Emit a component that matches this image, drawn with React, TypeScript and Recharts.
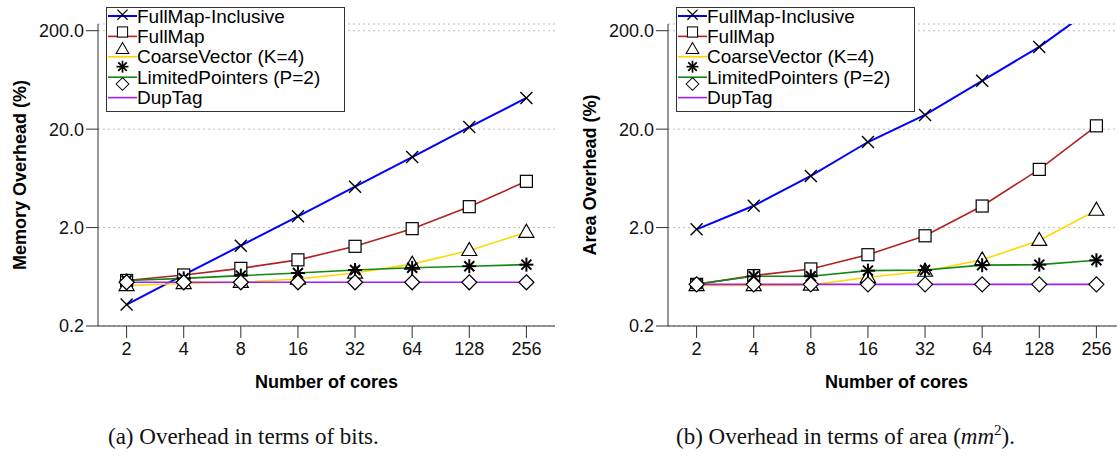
import { LineChart, Line, XAxis, YAxis, CartesianGrid, Legend } from 'recharts'

// number of cores (x categories)
const cores = ['2', '4', '8', '16', '32', '64', '128', '256']
const yTicks = [0.2, 2, 20, 200]

// (a) memory overhead, %
const memInclusive = [0.33, 0.66, 1.31, 2.6, 5.2, 10.4, 21, 41.5]
const memFullMap = [0.58, 0.66, 0.77, 0.94, 1.29, 1.95, 3.26, 5.9]
const memCoarse = [0.515, 0.54, 0.556, 0.6, 0.69, 0.85, 1.17, 1.79]
const memLimited = [0.58, 0.61, 0.65, 0.69, 0.74, 0.78, 0.81, 0.84]
const memDupTag = [0.556, 0.556, 0.556, 0.556, 0.556, 0.556, 0.556, 0.556]

// (b) area overhead, %
const areaInclusive = [1.92, 3.33, 6.7, 14.8, 27.9, 62, 137, 360]
const areaFullMap = [0.53, 0.65, 0.76, 1.06, 1.65, 3.31, 7.8, 21.6]
const areaCoarse = [0.515, 0.515, 0.52, 0.625, 0.72, 0.94, 1.48, 3.0]
const areaLimited = [0.535, 0.64, 0.64, 0.73, 0.74, 0.83, 0.84, 0.93]
const areaDupTag = [0.53, 0.53, 0.53, 0.53, 0.53, 0.53, 0.53, 0.53]

const series = [
  { key: 'inclusive', name: 'FullMap-Inclusive', color: '#0000ff', shape: 'cross', width: 2 },
  { key: 'fullmap', name: 'FullMap', color: '#b22222', shape: 'square', width: 1.6 },
  { key: 'coarse', name: 'CoarseVector (K=4)', color: '#ffd700', shape: 'triangle', width: 1.6 },
  { key: 'limited', name: 'LimitedPointers (P=2)', color: '#118a11', shape: 'star', width: 1.6 },
  { key: 'duptag', name: 'DupTag', color: '#a020f0', shape: 'diamond', width: 1.6 }
]

const buildRows = (cols: number[][]) =>
  cores.map((c, i) => ({
    cores: c,
    inclusive: cols[0][i],
    fullmap: cols[1][i],
    coarse: cols[2][i],
    limited: cols[3][i],
    duptag: cols[4][i]
  }))

const memData = buildRows([memInclusive, memFullMap, memCoarse, memLimited, memDupTag])
const areaData = buildRows([areaInclusive, areaFullMap, areaCoarse, areaLimited, areaDupTag])

const FONT = '"Liberation Sans", Arial, Helvetica, sans-serif'

const Marker = ({ shape, cx, cy }: { shape: string, cx: number, cy: number }) => {
  if (cx == null || cy == null || isNaN(cx) || isNaN(cy)) return null
  switch (shape) {
    case 'cross':
      return (
        <g stroke='#000' strokeWidth={1.4}>
          <line x1={cx - 6} y1={cy - 6} x2={cx + 6} y2={cy + 6} />
          <line x1={cx - 6} y1={cy + 6} x2={cx + 6} y2={cy - 6} />
        </g>
      )
    case 'square':
      return <rect x={cx - 6} y={cy - 6} width={12} height={12} fill='#fff' stroke='#000' strokeWidth={1.2} />
    case 'triangle':
      return <polygon points={`${cx},${cy - 8} ${cx + 7.5},${cy + 5} ${cx - 7.5},${cy + 5}`} fill='#fff' stroke='#000' strokeWidth={1.2} />
    case 'star':
      return (
        <g stroke='#000' strokeWidth={2}>
          <line x1={cx - 7} y1={cy} x2={cx + 7} y2={cy} />
          <line x1={cx} y1={cy - 7} x2={cx} y2={cy + 7} />
          <line x1={cx - 5} y1={cy - 5} x2={cx + 5} y2={cy + 5} />
          <line x1={cx - 5} y1={cy + 5} x2={cx + 5} y2={cy - 5} />
        </g>
      )
    default:
      return <polygon points={`${cx},${cy - 7.5} ${cx + 7.5},${cy} ${cx},${cy + 7.5} ${cx - 7.5},${cy}`} fill='#fff' stroke='#000' strokeWidth={1.2} />
  }
}

const LegendBox = () => (
  <svg width={240} height={106} style={{ display: 'block' }}>
    <rect x={0.5} y={0.5} width={238} height={104} fill='#fff' stroke='#333' strokeWidth={1} />
    {series.map((s, i) => {
      const cy = 9 + i * 20.4
      return (
        <g key={s.key}>
          <line x1={2} y1={cy} x2={31} y2={cy} stroke={s.color} strokeWidth={s.width} />
          <g transform='translate(16.5,0) scale(0.85) translate(-16.5,0)'>
            <Marker shape={s.shape} cx={16.5} cy={cy} />
          </g>
          <text x={31} y={cy} dominantBaseline='central' fontFamily={FONT} fontSize={19} fill='#000'>{s.name}</text>
        </g>
      )
    })}
  </svg>
)

const YTitle = ({ viewBox, text }: any) => {
  const cx = viewBox.x + 20
  const cy = viewBox.y + viewBox.height / 2
  return (
    <text x={cx} y={cy} transform={`rotate(-90 ${cx} ${cy})`} textAnchor='middle' dominantBaseline='central'
      fontFamily={FONT} fontWeight='bold' fontSize={18} fill='#000'>{text}</text>
  )
}

const XTitle = ({ viewBox }: any) => (
  <text x={viewBox.x + viewBox.width / 2} y={viewBox.y + 56} textAnchor='middle' dominantBaseline='central'
    fontFamily={FONT} fontWeight='bold' fontSize={18} fill='#000'>Number of cores</text>
)

const OverheadChart = ({ data, yLabel }: { data: any[], yLabel: string }) => (
  <LineChart width={560} height={400} data={data} margin={{ top: 24, right: 5, bottom: 0, left: 0 }}>
    <CartesianGrid vertical={false} stroke='#bbb' strokeDasharray='2 3' />
    <XAxis dataKey='cores' type='category' padding={{ left: 28.6, right: 28.6 }} height={74}
      tickSize={12} tickMargin={4} stroke='#333' interval={0}
      tick={{ fontFamily: FONT, fontSize: 18, fill: '#111' }}
      label={<XTitle />} />
    <YAxis scale='log' domain={[0.2, 234]} allowDataOverflow ticks={yTicks} width={98}
      tickSize={12} tickMargin={2} stroke='#333' interval={0}
      tickFormatter={(v: number) => v.toFixed(1)}
      tick={{ fontFamily: FONT, fontSize: 18, fill: '#111' }}
      label={<YTitle text={yLabel} />} />
    <Legend layout='vertical' align='center' verticalAlign='middle' content={() => <LegendBox />}
      wrapperStyle={{ left: 106, top: 7, width: 240, height: 106 }} />
    {series.map((s) => (
      <Line key={s.key} dataKey={s.key} name={s.name} type='linear' stroke={s.color} strokeWidth={s.width}
        isAnimationActive={false} activeDot={false}
        dot={(p: any) => <Marker key={`${s.key}-${p.index}`} shape={s.shape} cx={p.cx} cy={p.cy} />} />
    ))}
  </LineChart>
)

const captionStyle = {
  position: 'absolute' as const,
  top: 422,
  fontFamily: '"Liberation Serif", "Times New Roman", serif',
  fontSize: 23,
  color: '#111',
  whiteSpace: 'nowrap' as const,
  lineHeight: '30px'
}

export default function App () {
  return (
    <div style={{ position: 'absolute', left: 0, top: 0, width: 1117, height: 464, overflow: 'hidden', background: '#fff' }}>
      <div style={{ position: 'absolute', left: 0, top: 0 }}>
        <OverheadChart data={memData} yLabel='Memory Overhead (%)' />
      </div>
      <div style={{ position: 'absolute', left: 570, top: 0 }}>
        <OverheadChart data={areaData} yLabel='Area Overhead (%)' />
      </div>
      <div style={{ ...captionStyle, left: 108 }}>(a) Overhead in terms of bits.</div>
      <div style={{ ...captionStyle, left: 676 }}>
        (b) Overhead in terms of area (<i>mm</i><sup style={{ fontSize: 15, lineHeight: 0 }}>2</sup>).
      </div>
    </div>
  )
}
